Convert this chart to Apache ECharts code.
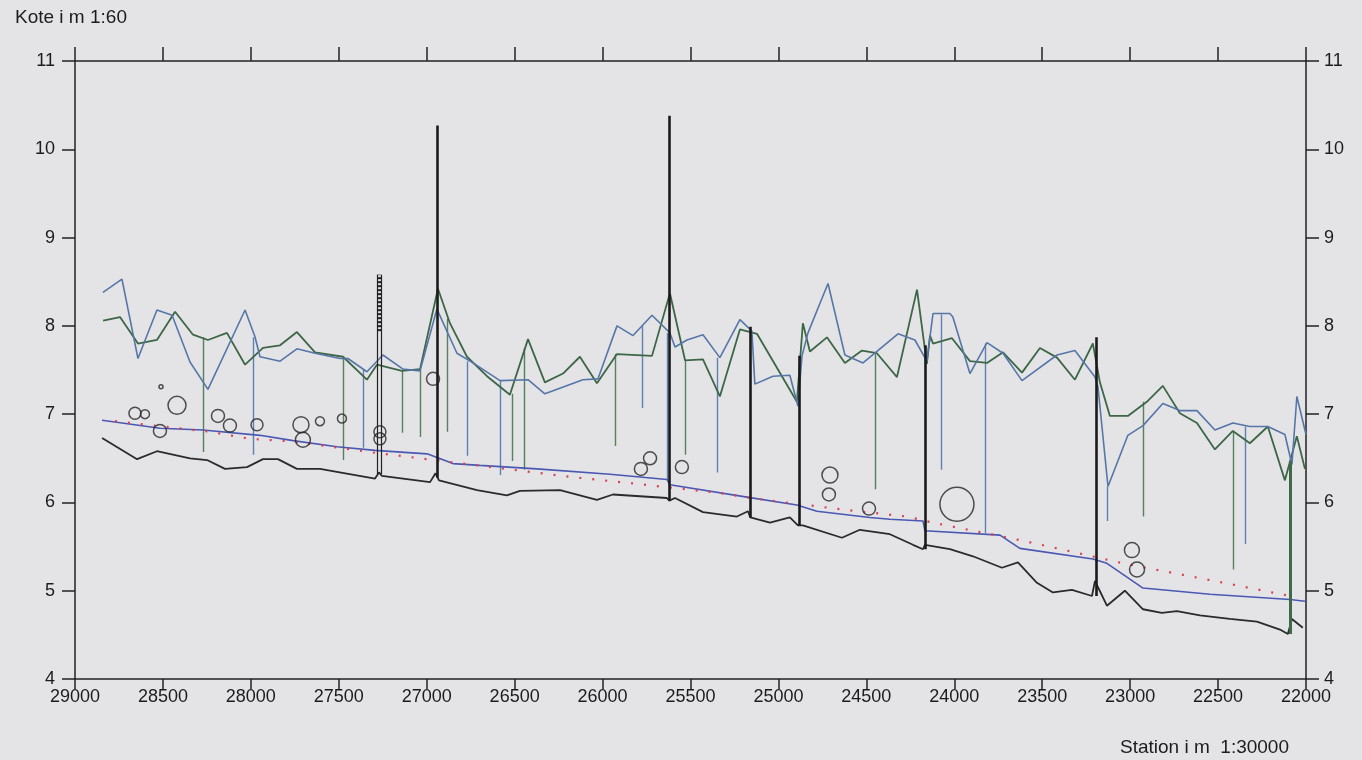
<!DOCTYPE html>
<html>
<head>
<meta charset="utf-8">
<title>Kote / Station</title>
<script src="https://cdn.jsdelivr.net/npm/echarts@6/dist/echarts.min.js"></script>
<style>
  html, body { margin: 0; padding: 0; background: #e4e4e7; }
  #chart { width: 1362px; height: 760px; }
</style>
</head>
<body>
<div id="chart"></div>
<script>
// station (m) , kote (m)
const bankGreen = [
  [28840, 8.06], [28744, 8.10], [28642, 7.80], [28534, 7.84], [28431, 8.16], [28329, 7.90],
  [28244, 7.84], [28136, 7.92], [28033, 7.56], [27931, 7.75], [27834, 7.78], [27738, 7.93],
  [27635, 7.70], [27476, 7.65], [27340, 7.39], [27283, 7.56], [27141, 7.49], [27038, 7.51],
  [26936, 8.42], [26868, 8.03], [26771, 7.65], [26657, 7.43], [26527, 7.22], [26424, 7.85],
  [26328, 7.36], [26225, 7.46], [26129, 7.65], [26032, 7.35], [25918, 7.68], [25719, 7.66],
  [25617, 8.37], [25531, 7.61], [25429, 7.62], [25333, 7.20], [25219, 7.96], [25122, 7.91],
  [24895, 7.14], [24861, 8.03], [24821, 7.71], [24724, 7.87], [24622, 7.58], [24525, 7.72],
  [24440, 7.69], [24326, 7.42], [24212, 8.41], [24156, 7.57], [24138, 7.89], [24121, 7.80],
  [24013, 7.86], [23911, 7.60], [23814, 7.58], [23723, 7.70], [23615, 7.47], [23513, 7.75],
  [23416, 7.64], [23314, 7.39], [23212, 7.80], [23172, 7.36], [23115, 6.98], [23013, 6.98],
  [22905, 7.14], [22814, 7.32], [22717, 7.01], [22620, 6.90], [22518, 6.60], [22416, 6.81],
  [22319, 6.67], [22217, 6.86], [22120, 6.25], [22052, 6.75], [22006, 6.38]
];

const bankBlue = [
  [28841, 8.38], [28733, 8.53], [28642, 7.63], [28534, 8.18], [28448, 8.12], [28346, 7.59],
  [28244, 7.28], [28033, 8.18], [27977, 7.88], [27948, 7.65], [27834, 7.60], [27738, 7.74],
  [27635, 7.69], [27493, 7.63], [27448, 7.63], [27340, 7.48], [27249, 7.67], [27135, 7.51],
  [27038, 7.49], [26942, 8.19], [26828, 7.69], [26737, 7.58], [26583, 7.38], [26424, 7.39],
  [26328, 7.23], [26112, 7.39], [26026, 7.40], [25918, 8.00], [25827, 7.89], [25719, 8.12],
  [25617, 7.92], [25588, 7.76], [25520, 7.84], [25429, 7.90], [25333, 7.64], [25219, 8.07],
  [25151, 7.94], [25134, 7.34], [25031, 7.43], [24935, 7.44], [24889, 7.09], [24866, 7.66],
  [24832, 7.92], [24718, 8.48], [24622, 7.67], [24519, 7.58], [24320, 7.91], [24224, 7.84],
  [24156, 7.60], [24121, 8.14], [24025, 8.14], [24008, 8.10], [23911, 7.46], [23814, 7.81],
  [23723, 7.69], [23615, 7.38], [23416, 7.67], [23314, 7.72], [23200, 7.42], [23183, 7.31],
  [23126, 6.18], [23013, 6.76], [22927, 6.87], [22814, 7.12], [22717, 7.04], [22620, 7.04],
  [22518, 6.82], [22416, 6.90], [22319, 6.86], [22217, 6.86], [22120, 6.77], [22080, 6.43],
  [22052, 7.20], [22000, 6.77]
];

const bed = [
  [28846, 6.73], [28647, 6.49], [28534, 6.58], [28346, 6.50], [28249, 6.48], [28147, 6.38],
  [28022, 6.40], [27931, 6.49], [27846, 6.49], [27738, 6.38], [27607, 6.38], [27294, 6.27],
  [27271, 6.34], [27255, 6.30], [26981, 6.23], [26950, 6.33], [26930, 6.25], [26714, 6.14],
  [26544, 6.08], [26470, 6.13], [26242, 6.14], [26032, 6.03], [25941, 6.09], [25634, 6.05],
  [25620, 6.02], [25588, 6.05], [25429, 5.89], [25236, 5.84], [25173, 5.90], [25160, 5.83],
  [25048, 5.77], [24935, 5.83], [24889, 5.74], [24861, 5.74], [24639, 5.60], [24537, 5.69],
  [24366, 5.64], [24235, 5.52], [24178, 5.47], [24167, 5.52], [24025, 5.47], [23894, 5.39],
  [23729, 5.26], [23638, 5.32], [23530, 5.09], [23439, 4.98], [23331, 5.01], [23217, 4.94],
  [23200, 5.11], [23132, 4.83], [23030, 5.00], [22927, 4.79], [22820, 4.75], [22734, 4.77],
  [22603, 4.72], [22433, 4.68], [22279, 4.65], [22148, 4.56], [22103, 4.51], [22080, 4.68],
  [22018, 4.58]
];

const water = [
  [28846, 6.93], [28517, 6.84], [28272, 6.82], [27948, 6.76], [27760, 6.70], [27510, 6.63],
  [27294, 6.59], [26998, 6.55], [26851, 6.44], [26697, 6.42], [26373, 6.38], [25958, 6.32],
  [25634, 6.26], [25617, 6.20], [25179, 6.06], [24895, 5.97], [24781, 5.90], [24480, 5.83],
  [24366, 5.81], [24178, 5.79], [24167, 5.68], [23740, 5.63], [23627, 5.48], [23212, 5.36],
  [23132, 5.31], [22927, 5.03], [22546, 4.96], [22091, 4.90], [22006, 4.88]
];

const design = [
  [28773, 6.92], [28232, 6.80], [28005, 6.72], [27760, 6.69], [27323, 6.57], [26998, 6.49],
  [26714, 6.42], [26186, 6.29], [25804, 6.21], [25577, 6.16], [25350, 6.11], [25122, 6.04],
  [24838, 5.97], [24593, 5.91], [24269, 5.84], [24121, 5.77], [23894, 5.68], [23667, 5.59],
  [23439, 5.49], [23217, 5.39], [23041, 5.31], [22700, 5.18], [22393, 5.06], [22165, 4.97],
  [22091, 4.94]
];

// station, top kote, bottom kote
const dropsGreen = [
  [28272, 7.87, 6.57], [27476, 7.65, 6.48], [27141, 7.49, 6.79], [27038, 7.51, 6.74],
  [26885, 8.08, 6.80], [26515, 7.23, 6.47], [26447, 7.75, 6.37], [25930, 7.68, 6.64],
  [25531, 7.61, 6.54], [24451, 7.69, 6.15], [22927, 7.14, 5.84], [22416, 6.81, 5.24]
];

const dropsBlue = [
  [27988, 7.87, 6.54], [27362, 7.50, 6.62], [26771, 7.60, 6.53], [26583, 7.38, 6.31],
  [25776, 8.00, 7.07], [25634, 7.92, 6.25], [25350, 7.64, 6.34], [24076, 8.13, 6.37],
  [23826, 7.80, 5.65], [23132, 6.18, 5.79], [22347, 6.86, 5.53]
];

// station, bottom, top
const bridges = [
  [26940, 6.28, 10.27], [25620, 6.02, 10.38], [25160, 5.83, 7.99],
  [24880, 5.74, 7.66], [24165, 5.47, 7.78], [23190, 4.94, 7.87]
];
const bridgeGreen = [[22090, 4.51, 6.47]];
// station, bottom, top, start of hatching
const hatchBar = [[27271, 6.32, 8.58, 7.94]];

// station, kote, size
const circles = [
  [28659, 7.01, 12], [28602, 7.00, 9], [28511, 7.31, 4], [28420, 7.10, 18], [28517, 6.81, 13],
  [28187, 6.98, 13], [28119, 6.87, 13], [27965, 6.88, 12], [27715, 6.88, 16], [27704, 6.71, 15],
  [27607, 6.92, 9], [27482, 6.95, 9], [27266, 6.80, 12], [27266, 6.72, 12], [26964, 7.40, 13],
  [25730, 6.50, 13], [25782, 6.38, 13], [25549, 6.40, 13], [24707, 6.31, 16], [24713, 6.09, 13],
  [24485, 5.93, 13], [23985, 5.98, 34], [22990, 5.46, 15], [22961, 5.24, 15]
];

const chart = echarts.init(document.getElementById('chart'));

const FONT = '"Liberation Sans", Arial, sans-serif';
const axisText = { color: '#1c1c1c', fontSize: 18, fontFamily: FONT, formatter: v => String(v) };
const axisLine = { show: true, lineStyle: { color: '#222', width: 1.5 } };
const tick = len => ({ show: true, length: len, lineStyle: { color: '#222', width: 1.5 } });

function segs(list, a, b) {
  return list.map(d => ({ coords: [[d[0], d[a]], [d[0], d[b]]] }));
}
function path(name, data, color, width, type) {
  return {
    name, type: 'line', data, showSymbol: false, symbol: 'none',
    lineStyle: { color, width, type: type || 'solid' }, z: 3, silent: true
  };
}
function vlines(name, data, color, width, z) {
  return {
    name, type: 'lines', coordinateSystem: 'cartesian2d', data, polyline: false,
    lineStyle: { color, width, opacity: 1 }, z: z || 2, silent: true
  };
}

const option = {
  backgroundColor: '#e4e4e7',
  animation: false,
  grid: { left: 75, right: 56, top: 61, bottom: 81 },
  xAxis: [
    {
      type: 'value', min: 22000, max: 29000, interval: 500, inverse: true, position: 'bottom',
      axisLine, axisTick: tick(10),
      axisLabel: Object.assign({ margin: 9 }, axisText), splitLine: { show: false }
    },
    {
      type: 'value', min: 22000, max: 29000, interval: 500, inverse: true, position: 'top',
      axisLine, axisTick: tick(14),
      axisLabel: { show: false }, splitLine: { show: false }
    }
  ],
  yAxis: [
    {
      type: 'value', min: 4, max: 11, interval: 1, position: 'left',
      axisLine, axisTick: tick(13),
      axisLabel: Object.assign({ margin: 20 }, axisText), splitLine: { show: false }
    },
    {
      type: 'value', min: 4, max: 11, interval: 1, position: 'right',
      axisLine, axisTick: tick(13),
      axisLabel: Object.assign({ margin: 18 }, axisText), splitLine: { show: false }
    }
  ],
  graphic: [
    { type: 'text', left: 15, top: 8, style: { text: 'Kote i m 1:60', fill: '#1c1c1c', fontSize: 19, fontFamily: FONT } },
    { type: 'text', left: 1120, top: 738, style: { text: 'Station i m  1:30000', fill: '#1c1c1c', fontSize: 19, fontFamily: FONT } }
  ],
  series: [
    vlines('Lodder grøn', segs(dropsGreen, 1, 2), '#587f5e', 1.4),
    vlines('Lodder blå', segs(dropsBlue, 1, 2), '#5f80b2', 1.4),
    path('Brink venstre', bankGreen, '#3d6647', 1.8),
    path('Brink højre', bankBlue, '#5676a8', 1.6),
    path('Bund', bed, '#2b2b2b', 1.8),
    path('Vandspejl', water, '#4a58b3', 1.6),
    path('Regulativ', design, '#d8404c', 2.2, [2, 11]),
    vlines('Broer', segs(bridges, 1, 2), '#1a1a1a', 2.6, 5),
    vlines('Bro grøn', segs(bridgeGreen, 1, 2), '#3e6a48', 3, 5),
    vlines('Stem kant 1', hatchBar.map(d => ({ coords: [[d[0] + 11, d[1]], [d[0] + 11, d[2]]] })), '#222', 1.2, 5),
    vlines('Stem kant 2', hatchBar.map(d => ({ coords: [[d[0] - 11, d[1]], [d[0] - 11, d[2]]] })), '#222', 1.2, 5),
    {
      name: 'Stem', type: 'lines', coordinateSystem: 'cartesian2d', polyline: false, z: 5, silent: true,
      data: hatchBar.map(d => ({ coords: [[d[0], d[3]], [d[0], d[2]]] })),
      lineStyle: { color: '#222', width: 4, type: [2, 2], opacity: 1 }
    },
    {
      name: 'Cirkler', type: 'scatter', data: circles, symbol: 'circle',
      symbolSize: d => d[2], z: 6, silent: true,
      itemStyle: { color: 'rgba(0,0,0,0)', borderColor: '#252525', borderWidth: 1.5 }
    }
  ]
};

chart.setOption(option);
</script>
</body>
</html>
